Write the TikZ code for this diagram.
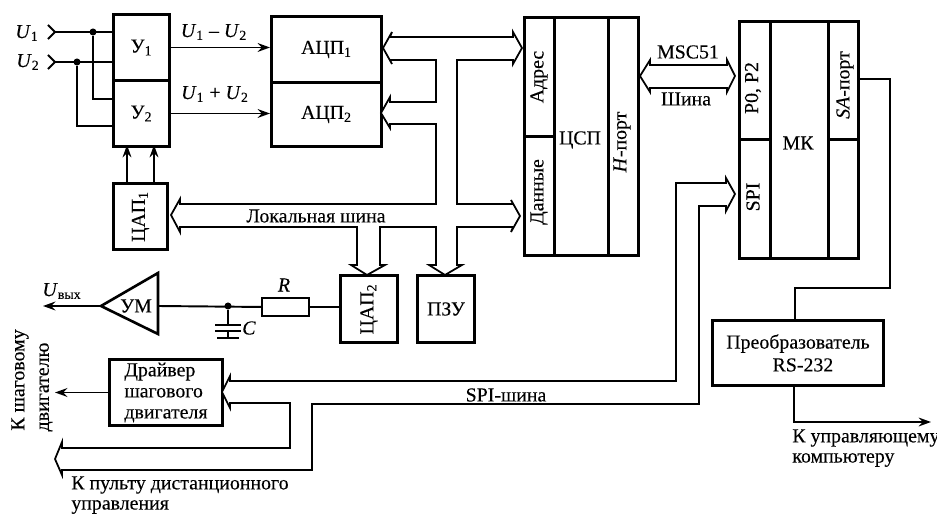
\documentclass[tikz,border=0pt]{standalone}
\usepackage{amsmath}
\usepackage{fontspec}
\setmainfont[FakeBold=0.2]{Liberation Serif}
\usepackage{tikz}
\usetikzlibrary{arrows.meta,positioning,calc}
\newcommand{\txtsize}{\fontsize{11.3}{13}\selectfont}
\newcommand{\subd}[1]{$_{\text{#1}}$}
\newcommand{\Ui}[1]{\textit{U}\subd{#1}}

\begin{document}
\begin{tikzpicture}[x=0.2mm,y=-0.2mm,>={Stealth[length=7pt,width=5pt]},font=\txtsize,
  blk/.style={draw,line width=1.7pt,inner sep=0pt,anchor=north west,align=center},
  sig/.style={line width=1.1pt},
  bus/.style={line width=1pt,line join=miter,fill=white},
  lbl/.style={inner sep=0pt},
  rlbl/.style={inner sep=0pt,rotate=90},
  dot/.style={circle,fill,inner sep=0pt,minimum size=4pt}]
\useasboundingbox (0,0) rectangle (937,515);
% amplifiers
\node[blk,minimum width=11.2mm,minimum height=13.2mm] (y1) at (112,13) {У\subd{1}};
\node[blk,minimum width=11.2mm,minimum height=13.2mm] (y2) at (112,79) {У\subd{2}};
\node[blk,minimum width=10.8mm,minimum height=13.2mm] (dac1) at (112,182) {};
\node[rlbl] (dac1t) at (dac1) {ЦАП\subd{1}};
% converters
\node[blk,minimum width=22mm,minimum height=13.2mm] (adc1) at (270,15) {АЦП\subd{1}};
\node[blk,minimum width=22mm,minimum height=12.8mm] (adc2) at (270,81) {АЦП\subd{2}};
\node[blk,minimum width=11.4mm,minimum height=13.4mm] (dac2) at (339,274) {};
\node[rlbl] (dac2t) at (dac2) {ЦАП\subd{2}};
\node[blk,minimum width=11.4mm,minimum height=13.4mm] (rom) at (416,274) {ПЗУ};
% dsp
\node[blk,minimum width=6mm,minimum height=23.8mm] (addr) at (523,16) {};
\node[blk,minimum width=6mm,minimum height=23.8mm] (data) at (523,135) {};
\node[blk,minimum width=10.8mm,minimum height=47.6mm] (dsp) at (553,16) {};
\node[blk,minimum width=6mm,minimum height=47.6mm] (hport) at (607,16) {};
\node[rlbl] (addrt) at (539,77) {Адрес};
\node[rlbl] (datat) at (539,192) {Данные};
\node[lbl] (dspt) at (580,140) {ЦСП};
\node[rlbl] (hportt) at (622,142) {\textit{H}-порт};
% mcu
\node[blk,minimum width=6.2mm,minimum height=23.6mm] (pp) at (738,20) {};
\node[blk,minimum width=6.2mm,minimum height=23.8mm] (spi) at (738,138) {};
\node[blk,minimum width=11.6mm,minimum height=47.4mm] (mcu) at (769,20) {};
\node[blk,minimum width=6mm,minimum height=23.6mm] (sa) at (827,20) {};
\node[blk,minimum width=6mm,minimum height=23.8mm] (sb) at (827,138) {};
\node[rlbl] (ppt) at (753,88) {P0, P2};
\node[rlbl] (spit) at (753,197) {SPI};
\node[lbl] (mcut) at (798,143) {МК};
\node[rlbl] (sat) at (845,85) {\textit{SA}-порт};
% lower blocks
\node[blk,minimum width=34.2mm,minimum height=13mm] (conv) at (711,319) {Преобразователь\\\ \ RS-232};
\node[blk,minimum width=22.6mm,minimum height=13.2mm,align=left] (drv) at (108,358) {Драйвер\\[-1pt]шагового\\[-1pt]двигателя};
\node[draw,line width=1.1pt,inner sep=0pt,minimum width=9.4mm,minimum height=3.6mm,anchor=north west] (res) at (261,297) {};
\coordinate (umtip) at (101,306);
\coordinate (umtop) at (158,273);
\coordinate (umbot) at (158,334);
\draw[line width=1.5pt] (umtip) -- (umtop) -- (umbot) -- cycle;
\node[lbl] (um) at (136,306) {УМ};
% inputs
\coordinate (in1) at (47,32);
\coordinate (in2) at (47,62);
\node[lbl] (u1) at (27,33) {\Ui{1}};
\node[lbl] (u2) at (28,62) {\Ui{2}};
\draw[sig,{Straight Barb[reversed,length=4pt,width=8pt]}-] (in1) -- (y1.west |- in1);
\draw[sig,{Straight Barb[reversed,length=4pt,width=8pt]}-] (in2) -- (y1.west |- in2);
\node[dot] (j1) at (93,32) {};
\node[dot] (j2) at (77,62) {};
\draw[sig] (j1) |- (112,99);
\draw[sig] (j2) |- (112,126);
% outputs of amplifiers
\draw[sig,->] (y1.east) -- (y1.east -| adc1.west);
\draw[sig,->] (y2.east) -- (y2.east -| adc2.west);
\node[lbl] (l12m) at (214,32) {\Ui{1} -- \Ui{2}};
\node[lbl] (l12p) at (215,94) {\Ui{1} + \Ui{2}};
\draw[sig,->] (127,182) -- (127,145);
\draw[sig,->] (154,182) -- (154,145);
% local bus
\draw[bus] (383,48) -- (392,32) -- (390,37) -- (513,37) -- (513,32) -- (522,48)
  -- (513,64) -- (513,60) -- (457,60) -- (457,204) -- (513,204) -- (511,200) -- (520,216)
  -- (511,232) -- (513,227) -- (457,227) -- (457,265) -- (462,265) -- (445,275) -- (429,265)
  -- (436,265) -- (436,227) -- (380,227) -- (380,265) -- (385,265) -- (367,275) -- (351,265)
  -- (357,265) -- (357,227) -- (180,227) -- (180,232) -- (171,215) -- (180,199) -- (180,204)
  -- (436,204) -- (436,124) -- (390,124) -- (390,128) -- (381,113) -- (390,97) -- (390,102)
  -- (436,102) -- (436,60) -- (390,60) -- (392,64) -- cycle;
\node[lbl] (lbus) at (316,216) {Локальная шина};
% msc51 bus
\draw[bus] (640,76) -- (650,60) -- (650,65) -- (727,65) -- (727,60) -- (735,76)
  -- (727,92) -- (727,88) -- (650,88) -- (650,92) -- cycle;
\node[lbl] (msc) at (688,52) {MSC51};
\node[lbl] (msb) at (686,99) {Шина};
% spi bus
\draw[bus] (735,194) -- (726,178) -- (726,183) -- (676,183) -- (676,381) -- (230,381)
  -- (230,376) -- (222,392) -- (230,408) -- (230,403) -- (290,403) -- (290,448) -- (62,448)
  -- (62,442) -- (55,459) -- (62,475) -- (62,470) -- (312,470) -- (312,404) -- (699,404)
  -- (699,206) -- (726,206) -- (726,211) -- cycle;
\node[lbl] (sbus) at (506,395) {SPI-шина};
% analog output
\draw[sig,->] (umtip) -- (43,306);
\node[lbl] (uout) at (62,291) {\textit{U}\subd{вых}};
\draw[sig] (umtop |- umtip) -- (res.west);
\draw[sig] (res.east) -- (res.east -| dac2.west);
\node[lbl] (rl) at (284,285) {\textit{R}};
\node[dot] (jc) at (228,306) {};
\coordinate (cp1) at (228,325);
\coordinate (cp2) at (228,331);
\coordinate (gnd) at (228,338);
\draw[sig] (jc) -- (cp1);
\draw[line width=1.5pt] ($(cp1)+(-13,0)$) -- ($(cp1)+(13,0)$);
\draw[line width=1.5pt] ($(cp2)+(-13,0)$) -- ($(cp2)+(13,0)$);
\draw[sig] (cp2) -- (gnd);
\draw[sig] ($(gnd)+(-11,0)$) -- ($(gnd)+(11,0)$);
\node[lbl] (cl) at (249,328) {\textit{C}};
% driver
\coordinate (drvout) at (55,390);
\draw[sig,->] (drv.west) -- (drv.west -| drvout);
\node[rlbl] (k1) at (20,380) {К шаговому};
\node[rlbl] (k2) at (46,387) {двигателю};
\node[lbl,anchor=west] (k3) at (71,485) {К пульту дистанционного};
\node[lbl,anchor=west] (k4) at (71,507) {управления};
% serial port
\coordinate (sac) at (890,288);
\draw[line width=0.8pt] (857,79) -| (sac) -| (795,319);
\coordinate (pcout) at (931,422);
\draw[sig,->] (794,384) |- (pcout);
\node[lbl,anchor=west] (k5) at (792,438) {К управляющему};
\node[lbl,anchor=west] (k6) at (792,460) {компьютеру};
\end{tikzpicture}
\end{document}
